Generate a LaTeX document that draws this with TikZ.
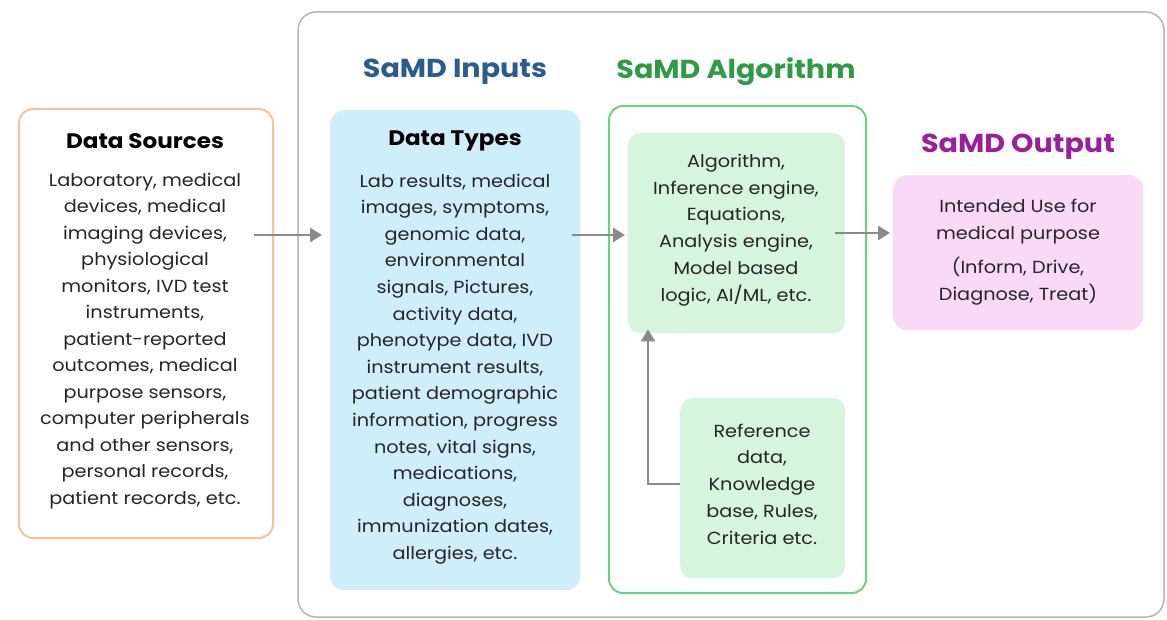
\documentclass[tikz,border=0pt]{standalone}
\usepackage{fontspec}
\setmainfont{Poppins}[FakeStretch=1.1]
\usetikzlibrary{arrows.meta}
\definecolor{bodytext}{HTML}{262626}
\definecolor{framegray}{HTML}{B5B5B5}
\definecolor{srcorange}{HTML}{F5C49C}
\definecolor{typesblue}{HTML}{CFEEFA}
\definecolor{algoborder}{HTML}{6CD088}
\definecolor{algofill}{HTML}{D6F5DD}
\definecolor{outfill}{HTML}{FAD9F7}
\definecolor{inputsblue}{HTML}{2B5C8E}
\definecolor{algogreen}{HTML}{2F9B45}
\definecolor{outpurple}{HTML}{991F9D}
\definecolor{arrowgray}{HTML}{8A8A8A}
\begin{document}
\begin{tikzpicture}[x=1pt,y=-1pt,
  panel/.style={rounded corners=14pt, inner sep=0pt, anchor=north west},
  body/.style={align=center, text=bodytext, inner sep=0pt},
  boxtitle/.style={font=\bfseries\fontsize{21}{24}\selectfont, text=black, inner sep=0pt},
  sectitle/.style={font=\bfseries\fontsize{26}{30}\selectfont, inner sep=0pt},
  arr/.style={draw=arrowgray, line width=2.6pt, -{Triangle[length=12pt,width=14pt]}}]
\useasboundingbox (0,0) rectangle (1167,620);
\fill[white] (0,0) rectangle (1167,620);

% outer frame round inputs, algorithm and output
\draw[framegray, line width=1.5pt, rounded corners=18pt] (298,12) rectangle (1164,617);

% panels
\node[panel, draw=srcorange, line width=2pt, fill=white, minimum width=254pt, minimum height=429pt] (ds) at (18,108) {};
\node[panel, fill=typesblue, minimum width=250pt, minimum height=480pt] (dt) at (330,110) {};
\node[panel, draw=algoborder, line width=2pt, fill=white, minimum width=257pt, minimum height=487pt] (alg) at (608,105) {};
\node[panel, fill=algofill, rounded corners=12pt, minimum width=217pt, minimum height=200pt] (eng) at (628,133) {};
\node[panel, fill=algofill, rounded corners=12pt, minimum width=165pt, minimum height=180pt] (ref) at (680,398) {};
\node[panel, fill=outfill, minimum width=250pt, minimum height=155pt] (out) at (893,175) {};

% section titles
\node[sectitle, text=inputsblue] (tin) at (455,72) {SaMD Inputs};
\node[sectitle, text=algogreen] (talg) at (736,72) {SaMD Algorithm};
\node[sectitle, text=outpurple] (tout) at (1018,147) {SaMD Output};

% box titles
\node[boxtitle] (tds) at (145,141) {Data Sources};
\node[boxtitle] (tdt) at (455,141) {Data Types};

% box texts
\node[body, font=\fontsize{17.5}{26.5}\selectfont] (xds) at (145,341) {Laboratory, medical\\devices, medical\\imaging devices,\\physiological\\monitors, IVD test\\instruments,\\patient-reported\\outcomes, medical\\purpose sensors,\\computer peripherals\\and other sensors,\\personal records,\\patient records, etc.};
\node[body, font=\fontsize{17.5}{26.6}\selectfont] (xdt) at (455,369) {Lab results, medical\\images, symptoms,\\genomic data,\\environmental\\signals, Pictures,\\activity data,\\phenotype data, IVD\\instrument results,\\patient demographic\\information, progress\\notes, vital signs,\\medications,\\diagnoses,\\immunization dates,\\allergies, etc.};
\node[body, font=\fontsize{17.5}{26.8}\selectfont] (xeng) at (736,230) {Algorithm,\\Inference engine,\\Equations,\\Analysis engine,\\Model based\\logic, AI/ML, etc.};
\node[body, font=\fontsize{17.5}{26.8}\selectfont] (xref) at (762,484) {Reference\\data,\\Knowledge\\base, Rules,\\Criteria etc.};
\node[body, font=\fontsize{17.5}{27}\selectfont] (xout) at (1018,252) {Intended Use for\\medical purpose\\[7pt](Inform, Drive,\\Diagnose, Treat)};

% connectors
\coordinate (r1) at (0,235);
\coordinate (r2) at (0,233);
\draw[arr] ([xshift=-20pt]ds.east |- r1) -- ([xshift=-8pt]dt.west |- r1);
\draw[arr] ([xshift=-8pt]dt.east |- r1) -- ([xshift=-3pt]eng.west |- r1);
\draw[arr] ([xshift=-10pt]eng.east |- r2) -- ([xshift=-3pt]out.west |- r2);
\coordinate (bend) at (648,484);
\draw[arr] (ref.west |- bend) -- (bend) -- ([yshift=4pt]eng.south -| bend);
\end{tikzpicture}
\end{document}
